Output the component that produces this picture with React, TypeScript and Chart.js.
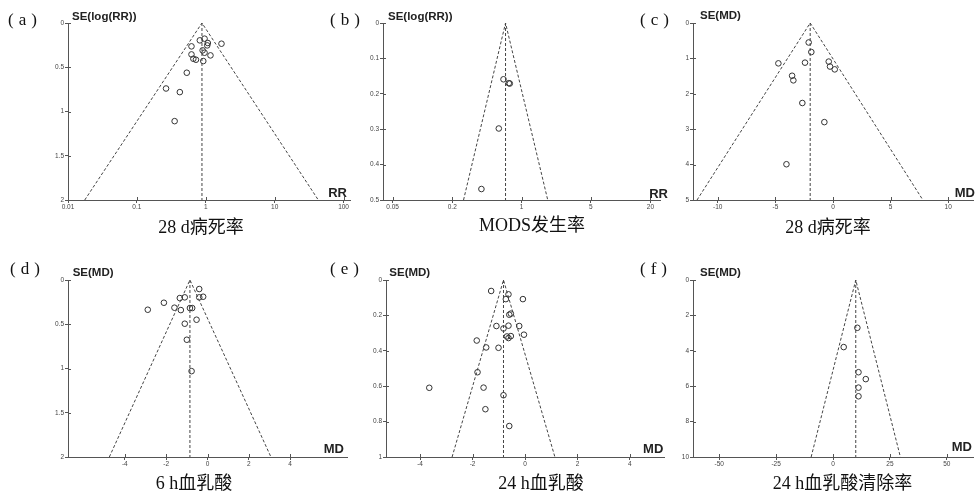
import React, { useEffect, useRef } from 'react';
import { Chart, registerables } from 'chart.js';

Chart.register(...registerables);

// ---------------- data ----------------
const panelLabels = ['(a)', '(b)', '(c)', '(d)', '(e)', '(f)'];
const captions = ['28 d病死率', 'MODS发生率', '28 d病死率', '6 h血乳酸', '24 h血乳酸', '24 h血乳酸清除率'];
const yTitles = ['SE(log(RR))', 'SE(log(RR))', 'SE(MD)', 'SE(MD)', 'SE(MD)', 'SE(MD)'];
const xTitles = ['RR', 'RR', 'MD', 'MD', 'MD', 'MD'];

const aEffect = [0.82, 0.96, 1.05, 1.07, 1.69, 0.62, 0.9, 0.96, 0.62, 0.66, 0.72, 1.17, 0.92, 0.53, 0.265, 0.42, 0.353];
const aSE = [0.196, 0.177, 0.253, 0.226, 0.234, 0.264, 0.309, 0.336, 0.355, 0.404, 0.415, 0.366, 0.43, 0.562, 0.74, 0.781, 1.109];

const bEffect = [0.658, 0.744, 0.762, 0.59, 0.394];
const bSE = [0.159, 0.17, 0.171, 0.298, 0.469];

const cEffect = [-2.11, -1.88, -4.74, -2.43, -0.37, -0.26, 0.15, -3.55, -3.44, -2.66, -0.75, -4.04];
const cSE = [0.55, 0.82, 1.14, 1.12, 1.09, 1.23, 1.31, 1.49, 1.62, 2.26, 2.8, 3.99];

const dEffect = [-0.4, -1.1, -1.34, -0.4, -0.21, -2.11, -2.89, -1.6, -1.29, -0.85, -0.74, -0.53, -1.1, -1.0, -0.77];
const dSE = [0.102, 0.196, 0.204, 0.196, 0.189, 0.257, 0.336, 0.313, 0.34, 0.317, 0.317, 0.449, 0.494, 0.675, 1.03];

const eEffect = [-1.29, -0.63, -0.73, -0.08, -0.6, -0.54, -1.09, -0.82, -0.63, -0.22, -0.04, -0.69, -0.63, -0.54, -1.84, -1.48, -1.01, -1.81, -3.65, -1.58, -0.82, -1.51, -0.6];
const eSE = [0.062, 0.081, 0.108, 0.108, 0.196, 0.19, 0.26, 0.274, 0.258, 0.26, 0.309, 0.319, 0.328, 0.317, 0.342, 0.381, 0.383, 0.521, 0.609, 0.608, 0.651, 0.73, 0.825];

const fEffect = [10.7, 4.7, 11.2, 14.4, 11.2, 11.2];
const fSE = [2.7, 3.79, 5.21, 5.6, 6.08, 6.57];

// funnel: [pooled estimate, lower limit at max SE, upper limit at max SE, max SE]
const aFunnel = [0.88, 0.0175, 43, 2];
const bFunnel = [0.69, 0.26, 1.84, 0.5];
const cFunnel = [-1.98, -11.8, 7.8, 5];
const dFunnel = [-0.85, -4.75, 3.07, 2];
const eFunnel = [-0.82, -2.78, 1.14, 1];
const fFunnel = [10, -9.6, 29.6, 10];

// axis ranges and tick labels
const aXRange = [0.01, 124];
const bXRange = [0.04, 25];
const cXRange = [-12.15, 12.15];
const dXRange = [-6.75, 6.75];
const eXRange = [-5.3, 5.3];
const fXRange = [-61.5, 61.5];

const aXTicks = [0.01, 0.1, 1, 10, 100];
const bXTicks = [0.05, 0.2, 1, 5, 20];
const cXTicks = [-10, -5, 0, 5, 10];
const dXTicks = [-4, -2, 0, 2, 4];
const eXTicks = [-4, -2, 0, 2, 4];
const fXTicks = [-50, -25, 0, 25, 50];

const aYTicks = [0, 0.5, 1, 1.5, 2];
const bYTicks = [0, 0.1, 0.2, 0.3, 0.4, 0.5];
const cYTicks = [0, 1, 2, 3, 4, 5];
const dYTicks = [0, 0.5, 1, 1.5, 2];
const eYTicks = [0, 0.2, 0.4, 0.6, 0.8, 1];
const fYTicks = [0, 2, 4, 6, 8, 10];

// ---------------- layout (pixels) ----------------
type PanelCfg = {
  effect: number[];
  se: number[];
  funnel: number[];
  xRange: number[];
  xTicks: number[];
  yTicks: number[];
  log: boolean;
  area: [number, number, number, number]; // left, top, right, bottom
  label: [number, number];
  yTitle: [number, number];
  xTitle: [number, number];
  caption: [number, number];
};

const panels: PanelCfg[] = [
  { effect: aEffect, se: aSE, funnel: aFunnel, xRange: aXRange, xTicks: aXTicks, yTicks: aYTicks, log: true,
    area: [68, 22.7, 350, 199.3], label: [8, 19], yTitle: [72, 16.5], xTitle: [347, 191.5], caption: [201, 226.5] },
  { effect: bEffect, se: bSE, funnel: bFunnel, xRange: bXRange, xTicks: bXTicks, yTicks: bYTicks, log: true,
    area: [383, 22.7, 660, 199.3], label: [330, 19], yTitle: [388, 17], xTitle: [668, 192.5], caption: [532, 225] },
  { effect: cEffect, se: cSE, funnel: cFunnel, xRange: cXRange, xTicks: cXTicks, yTicks: cYTicks, log: false,
    area: [693, 22.7, 973, 199.3], label: [640, 19], yTitle: [700, 15.5], xTitle: [975, 192], caption: [828, 226.5] },
  { effect: dEffect, se: dSE, funnel: dFunnel, xRange: dXRange, xTicks: dXTicks, yTicks: dYTicks, log: false,
    area: [68, 280, 346.7, 456.7], label: [10, 268], yTitle: [72.7, 273], xTitle: [344, 448], caption: [194, 483] },
  { effect: eEffect, se: eSE, funnel: eFunnel, xRange: eXRange, xTicks: eXTicks, yTicks: eYTicks, log: false,
    area: [385.7, 280, 663.3, 456.7], label: [330, 268], yTitle: [389.3, 273], xTitle: [663.3, 448], caption: [541, 483] },
  { effect: fEffect, se: fSE, funnel: fFunnel, xRange: fXRange, xTicks: fXTicks, yTicks: fYTicks, log: false,
    area: [693.3, 280, 973, 456.7], label: [640, 268], yTitle: [700, 273], xTitle: [972, 446], caption: [842.5, 483] },
];

const YW = 30;
const PT = 8;
const PR = 8;
const XH = 14;
const AXIS_COLOR = '#555';
const TICK_FONT = { size: 6.5, family: "'Liberation Sans Narrow', 'Liberation Sans', Arial, sans-serif" };

const fmt = (v: number) => String(Number(v.toFixed(4)));

const crossTicks = {
  id: 'crossTicks',
  afterDraw(chart: any) {
    const ctx = chart.ctx;
    const xs = chart.scales.x;
    const ys = chart.scales.y;
    const area = chart.chartArea;
    ctx.save();
    ctx.strokeStyle = AXIS_COLOR;
    ctx.lineWidth = 1;
    ctx.beginPath();
    xs.ticks.forEach((t: any) => {
      const px = Math.round(xs.getPixelForValue(t.value)) + 0.5;
      ctx.moveTo(px, area.bottom - 3);
      ctx.lineTo(px, area.bottom);
    });
    ys.ticks.forEach((t: any) => {
      const py = Math.round(ys.getPixelForValue(t.value)) + 0.5;
      ctx.moveTo(area.left, py);
      ctx.lineTo(area.left + 3, py);
    });
    ctx.stroke();
    ctx.restore();
  },
};

function Panel({ cfg, idx }: { cfg: PanelCfg; idx: number }) {
  const ref = useRef<HTMLCanvasElement | null>(null);
  const [l, t, r, b] = cfg.area;
  const cw = Math.round(r - l + YW + PR);
  const ch = Math.round(b - t + PT + XH);
  useEffect(() => {
    if (!ref.current) return;
    const [center, lo, hi, seMax] = cfg.funnel;
    const pts = cfg.effect.map((x, i) => ({ x, y: cfg.se[i] }));
    const lineStyle = {
      showLine: true,
      borderColor: '#444',
      borderWidth: 1,
      borderDash: [3, 2],
      pointRadius: 0,
      fill: false,
    };
    const chart = new Chart(ref.current, {
      type: 'scatter',
      data: {
        datasets: [
          { ...lineStyle, data: [{ x: lo, y: seMax }, { x: center, y: 0 }, { x: hi, y: seMax }] },
          { ...lineStyle, data: [{ x: center, y: 0 }, { x: center, y: seMax }] },
          {
            data: pts,
            pointRadius: 2.8,
            pointBorderWidth: 1,
            pointBorderColor: '#333',
            pointBackgroundColor: 'rgba(0,0,0,0)',
            showLine: false,
          },
        ],
      },
      options: {
        responsive: false,
        animation: false,
        events: [],
        layout: { padding: { top: PT, right: PR, left: 0, bottom: 0 } },
        plugins: { legend: { display: false }, tooltip: { enabled: false }, title: { display: false } },
        scales: {
          x: {
            type: cfg.log ? 'logarithmic' : 'linear',
            position: 'bottom',
            min: cfg.xRange[0],
            max: cfg.xRange[1],
            afterBuildTicks: (s: any) => {
              s.ticks = cfg.xTicks.map((v) => ({ value: v }));
            },
            afterFit: (s: any) => {
              s.height = XH;
            },
            ticks: {
              autoSkip: false,
              maxRotation: 0,
              minRotation: 0,
              padding: 0,
              color: '#444',
              font: TICK_FONT,
              callback: (v: any) => fmt(Number(v)),
            },
            grid: { display: true, drawOnChartArea: false, drawTicks: true, tickLength: 3, color: AXIS_COLOR },
            border: { display: true, color: AXIS_COLOR, width: 1 },
          },
          y: {
            type: 'linear',
            reverse: true,
            min: cfg.yTicks[0],
            max: cfg.yTicks[cfg.yTicks.length - 1],
            afterBuildTicks: (s: any) => {
              s.ticks = cfg.yTicks.map((v) => ({ value: v }));
            },
            afterFit: (s: any) => {
              s.width = YW;
            },
            ticks: {
              autoSkip: false,
              padding: 1,
              color: '#444',
              font: TICK_FONT,
              callback: (v: any) => fmt(Number(v)),
            },
            grid: { display: true, drawOnChartArea: false, drawTicks: true, tickLength: 3, color: AXIS_COLOR },
            border: { display: true, color: AXIS_COLOR, width: 1 },
          },
        },
      } as any,
      plugins: [crossTicks],
    });
    return () => chart.destroy();
  }, [cfg]);

  const sans = "'Liberation Sans', Arial, sans-serif";
  const serifCjk = "'Liberation Serif', 'Noto Sans CJK SC', serif";
  return (
    <>
      <canvas
        ref={ref}
        width={cw}
        height={ch}
        style={{ position: 'absolute', left: Math.round(l - YW), top: Math.round(t - PT), width: cw, height: ch }}
      />
      <div
        style={{
          position: 'absolute', left: cfg.label[0], top: cfg.label[1], transform: 'translateY(-50%)',
          fontFamily: serifCjk, fontSize: 17, lineHeight: 1, letterSpacing: 5, whiteSpace: 'nowrap', color: '#111',
        }}
      >
        {panelLabels[idx]}
      </div>
      <div
        style={{
          position: 'absolute', left: cfg.yTitle[0], top: cfg.yTitle[1], transform: 'translateY(-50%)',
          fontFamily: sans, fontSize: 11.5, fontWeight: 'bold', lineHeight: 1, whiteSpace: 'nowrap', color: '#222',
        }}
      >
        {yTitles[idx]}
      </div>
      <div
        style={{
          position: 'absolute', left: cfg.xTitle[0], top: cfg.xTitle[1], transform: 'translate(-100%, -50%)',
          fontFamily: sans, fontSize: 13, fontWeight: 'bold', lineHeight: 1, whiteSpace: 'nowrap', color: '#222',
        }}
      >
        {xTitles[idx]}
      </div>
      <div
        style={{
          position: 'absolute', left: cfg.caption[0], top: cfg.caption[1], transform: 'translate(-50%, -50%)',
          fontFamily: serifCjk, fontSize: 18, lineHeight: 1, whiteSpace: 'nowrap', color: '#111',
        }}
      >
        {captions[idx]}
      </div>
    </>
  );
}

export default function App() {
  return (
    <div style={{ position: 'absolute', left: 0, top: 0, width: 976, height: 496, background: '#fff', overflow: 'hidden' }}>
      {panels.map((p, i) => (
        <Panel key={i} cfg={p} idx={i} />
      ))}
    </div>
  );
}
